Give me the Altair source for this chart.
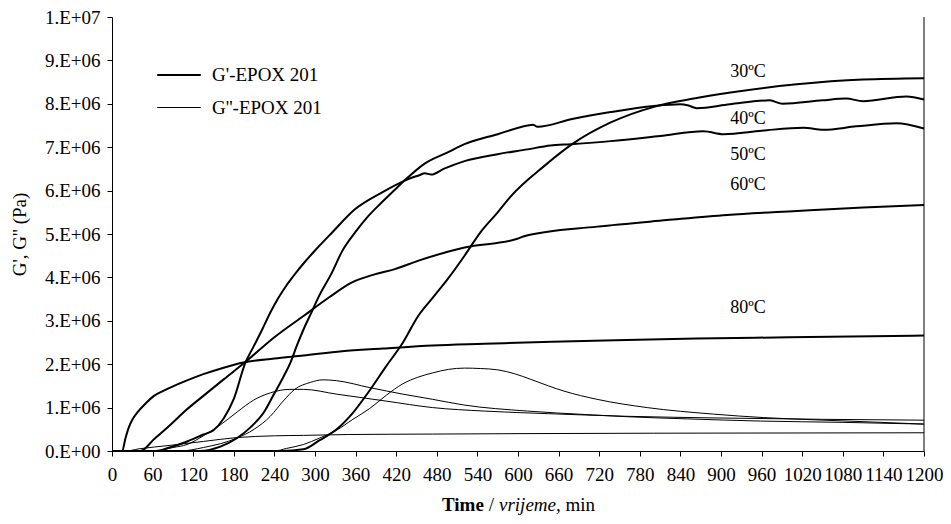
import altair as alt
import pandas as pd

# ---- data (time in min, modulus in units of 1E6 Pa) ----
t_g1_30 = [0, 250, 283, 307, 332, 356, 381, 405, 430, 452, 475, 496, 521, 545, 570, 590, 639, 680, 737, 801, 860, 914, 1012, 1110, 1200]
v_g1_30 = [0, 0, 0.04, 0.25, 0.5, 0.88, 1.4, 1.95, 2.5, 3.1, 3.55, 3.96, 4.5, 5.05, 5.5, 5.88, 6.57, 7.07, 7.57, 7.93, 8.12, 8.26, 8.45, 8.56, 8.59]

t_g1_40 = [0, 130, 160, 185, 205, 224, 239, 253, 264, 273, 283, 295, 305, 325, 340, 359, 378, 398, 420, 437, 460, 496, 521, 570, 614, 622, 629, 680, 737, 801, 840, 852, 864, 913, 972, 991, 1050, 1085, 1110, 1174, 1200]
v_g1_40 = [0, 0, 0.1, 0.3, 0.55, 0.88, 1.3, 1.7, 2.05, 2.42, 2.8, 3.2, 3.54, 4.11, 4.6, 5.03, 5.4, 5.72, 6.05, 6.3, 6.6, 6.88, 7.07, 7.3, 7.5, 7.52, 7.47, 7.65, 7.81, 7.95, 7.99, 7.96, 7.9, 7.99, 8.08, 8.0, 8.08, 8.12, 8.06, 8.17, 8.1]

t_g1_50 = [0, 65, 85, 111, 135, 150, 165, 180, 197, 209, 222, 234, 246, 258, 270, 283, 300, 325, 359, 398, 437, 455, 462, 472, 490, 521, 570, 614, 648, 678, 737, 810, 874, 904, 960, 1022, 1051, 1100, 1159, 1200]
v_g1_50 = [0, 0, 0.08, 0.22, 0.38, 0.48, 0.75, 1.2, 2.03, 2.4, 2.8, 3.19, 3.53, 3.82, 4.07, 4.32, 4.62, 5.03, 5.57, 5.95, 6.26, 6.36, 6.4, 6.37, 6.5, 6.68, 6.84, 6.95, 7.04, 7.07, 7.14, 7.26, 7.37, 7.3, 7.38, 7.45, 7.4, 7.48, 7.55, 7.43]

t_g1_60 = [0, 42, 62, 86, 110, 135, 165, 197, 240, 283, 320, 354, 388, 418, 452, 521, 599, 609, 717, 820, 909, 1012, 1110, 1200]
v_g1_60 = [0, 0, 0.27, 0.6, 0.95, 1.27, 1.65, 2.05, 2.62, 3.11, 3.53, 3.88, 4.07, 4.19, 4.38, 4.69, 4.89, 4.95, 5.17, 5.32, 5.44, 5.53, 5.61, 5.67]

t_g1_80 = [0, 15, 20, 25, 30, 37, 50, 62, 75, 86, 110, 135, 165, 194, 240, 283, 340, 400, 474, 550, 650, 760, 864, 1000, 1200]
v_g1_80 = [0, 0, 0.3, 0.55, 0.72, 0.88, 1.1, 1.27, 1.38, 1.46, 1.62, 1.77, 1.92, 2.04, 2.13, 2.2, 2.3, 2.36, 2.43, 2.47, 2.52, 2.56, 2.59, 2.62, 2.66]

t_g2_30 = [0, 240, 258, 283, 307, 332, 356, 381, 405, 430, 452, 474, 497, 521, 545, 570, 595, 619, 645, 668, 717, 791, 889, 963, 1036, 1120, 1200]
v_g2_30 = [0, 0, 0.06, 0.15, 0.3, 0.48, 0.73, 0.98, 1.28, 1.55, 1.7, 1.8, 1.88, 1.91, 1.9, 1.87, 1.78, 1.65, 1.5, 1.38, 1.19, 1.0, 0.85, 0.77, 0.72, 0.67, 0.62]

t_g2_40 = [0, 100, 135, 185, 210, 234, 253, 270, 293, 312, 332, 381, 430, 474, 520, 614, 700, 761, 850, 958, 1080, 1200]
v_g2_40 = [0, 0, 0.08, 0.3, 0.5, 0.8, 1.15, 1.42, 1.58, 1.64, 1.62, 1.46, 1.31, 1.19, 1.06, 0.92, 0.84, 0.79, 0.74, 0.69, 0.66, 0.62]

t_g2_50 = [0, 60, 90, 111, 135, 160, 185, 209, 234, 263, 283, 332, 405, 474, 550, 645, 760, 900, 1050, 1200]
v_g2_50 = [0, 0, 0.08, 0.15, 0.35, 0.6, 0.9, 1.17, 1.34, 1.42, 1.42, 1.31, 1.15, 1.0, 0.92, 0.86, 0.8, 0.76, 0.73, 0.71]

t_g2_80 = [0, 20, 40, 86, 135, 185, 240, 283, 350, 474, 600, 800, 1200]
v_g2_80 = [0, 0, 0.05, 0.13, 0.22, 0.31, 0.35, 0.36, 0.38, 0.39, 0.4, 0.41, 0.42]

kinds = ["G'-EPOX 201", "G''-EPOX 201"]

temp_labels = ["30ºC", "40ºC", "50ºC", "60ºC", "80ºC"]
temp_label_t = [940, 940, 940, 940, 940]
temp_label_v = [8.74, 7.66, 6.83, 6.13, 3.30]

x_ticks = list(range(0, 1201, 60))
y_tick_labels = ["0.E+00", "1.E+06", "2.E+06", "3.E+06", "4.E+06", "5.E+06",
                 "6.E+06", "7.E+06", "8.E+06", "9.E+06", "1.E+07"]

# ---- build table ----
series = [
    ("G' 30", kinds[0], t_g1_30, v_g1_30),
    ("G' 40", kinds[0], t_g1_40, v_g1_40),
    ("G' 50", kinds[0], t_g1_50, v_g1_50),
    ("G' 60", kinds[0], t_g1_60, v_g1_60),
    ("G' 80", kinds[0], t_g1_80, v_g1_80),
    ("G'' 30", kinds[1], t_g2_30, v_g2_30),
    ("G'' 40", kinds[1], t_g2_40, v_g2_40),
    ("G'' 50", kinds[1], t_g2_50, v_g2_50),
    ("G'' 80", kinds[1], t_g2_80, v_g2_80),
]
rows = []
for name, kind, ts, vs in series:
    for i, (t, v) in enumerate(zip(ts, vs)):
        rows.append({"series": name, "kind": kind, "t": t, "v": v * 1e6, "i": i})
df = pd.DataFrame(rows)

lab_df = pd.DataFrame({"text": temp_labels, "t": temp_label_t,
                       "v": [v * 1e6 for v in temp_label_v]})

FONT = "Liberation Serif"
W, H = 812, 434

label_expr = "[" + ",".join("'%s'" % s for s in y_tick_labels) + "][round(datum.value/1000000)]"

x_enc = alt.X("t:Q", scale=alt.Scale(domain=[0, 1200], nice=False, zero=False),
              axis=alt.Axis(values=x_ticks, format="d", title=None, labelFontSize=19,
                            labelPadding=9, labelFlush=False, labelOverlap=False))
y_enc = alt.Y("v:Q", scale=alt.Scale(domain=[0, 1e7], nice=False),
              axis=alt.Axis(values=[i * 1e6 for i in range(11)], labelExpr=label_expr,
                            title="G', G'' (Pa)", titlePadding=15, labelPadding=7,
                            labelFontSize=19, titleFontSize=19))

lines = alt.Chart(df).mark_line(interpolate="monotone", color="black").encode(
    x=x_enc,
    y=y_enc,
    detail="series:N",
    order="i:Q",
    strokeWidth=alt.StrokeWidth(
        "kind:N",
        scale=alt.Scale(domain=kinds, range=[2.0, 1.0]),
        legend=alt.Legend(title=None, orient="none", legendX=44, legendY=35,
                          symbolType="stroke", symbolSize=1900,
                          symbolStrokeColor="black", labelFont=FONT,
                          labelFontSize=19, labelColor="black", rowPadding=-8,
                          labelOffset=10)),
)

temps = alt.Chart(lab_df).mark_text(font=FONT, fontSize=18, color="black").encode(
    x="t:Q", y="v:Q", text="text:N")

border = alt.Chart(pd.DataFrame({"t": [1200]})).mark_rule(color="black", strokeWidth=1).encode(
    x="t:Q", y=alt.value(0), y2=alt.value(H))

one = pd.DataFrame({"a": [0]})
ty = H + 54
cx = W / 2
t_time = alt.Chart(one).mark_text(font=FONT, fontSize=19, fontWeight="bold", align="left",
                                  baseline="middle", color="black").encode(
    x=alt.value(cx - 76), y=alt.value(ty), text=alt.value("Time"))
t_slash = alt.Chart(one).mark_text(font=FONT, fontSize=19, align="center",
                                   baseline="middle", color="black").encode(
    x=alt.value(cx - 26.5), y=alt.value(ty), text=alt.value("/"))
t_vr = alt.Chart(one).mark_text(font=FONT, fontSize=19, fontStyle="italic", align="left",
                                baseline="middle", color="black").encode(
    x=alt.value(cx - 19), y=alt.value(ty), text=alt.value("vrijeme,"))
t_min = alt.Chart(one).mark_text(font=FONT, fontSize=19, align="left",
                                 baseline="middle", color="black").encode(
    x=alt.value(cx + 47.5), y=alt.value(ty), text=alt.value("min"))

chart = alt.layer(lines, temps, border, t_time, t_slash, t_vr, t_min).properties(
    width=W, height=H,
    padding={"left": 2, "top": 0, "right": 0, "bottom": 0},
    background="white",
).configure_view(stroke=None).configure_axis(
    labelFont=FONT, titleFont=FONT, labelColor="black", titleColor="black",
    titleFontWeight="normal", domainColor="black", tickColor="black",
    tickSize=5, grid=False, domainWidth=1, tickWidth=1,
)

chart.save("out.html", embed_options={"renderer": "svg", "actions": False})
